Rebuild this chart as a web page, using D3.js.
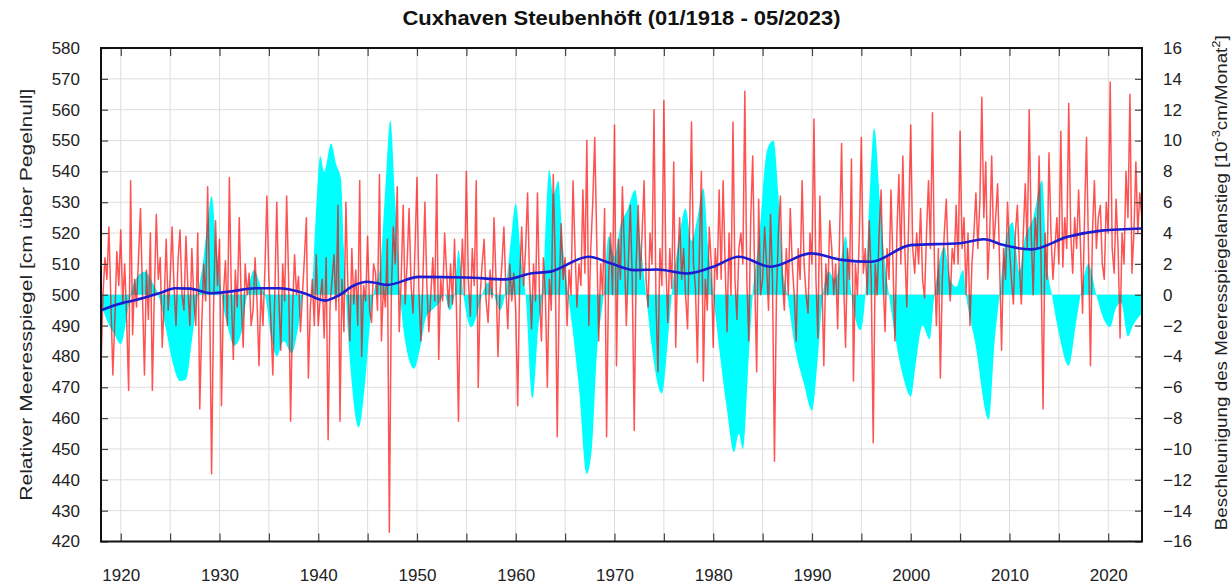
<!DOCTYPE html>
<html>
<head>
<meta charset="utf-8">
<script src="https://cdn.jsdelivr.net/npm/d3@7"></script>
<style>
  body { margin: 0; background: #fff; }
  svg { font-family: "Liberation Sans", Arial, sans-serif; }
  .grid line { stroke: #dedede; stroke-width: 1; }
  .axis path { display: none; }
  .axis line { stroke: #444; stroke-width: 1.2; }
  .axis text { font-size: 17px; fill: #222; }
  .title { font-size: 20px; font-weight: bold; fill: #111; }
  .label { font-size: 16px; fill: #222; }
</style>
</head>
<body>
<svg width="1231" height="585"></svg>
<script>
// sea level, cm above gauge zero, one value every 0.2 years from 01/1918
const levelStart = 1918, levelStep = 0.2
const seaLevel = [
  476,500,512,505,522, 498,474,492,514,503, 521,497,510,492,469, 537,487,505,496,512, 528,500,474,508,492,
  520,469,500,526,505, 512,483,498,518,495, 505,522,502,490,511, 521,500,495,519,502, 490,515,498,490,520,
  463,490,510,498,535, 500,442,496,524,503, 518,464,500,511,490, 538,500,479,508,496, 525,498,483,510,500,
  507,490,495,512,498, 477,502,490,508,532, 505,492,474,500,530, 500,482,510,498,532, 505,459,495,513,500,
  506,488,500,512,525, 473,496,505,490,513, 490,499,505,486,512, 453,497,505,513,495, 529,459,505,488,530,
  503,485,515,497,508, 490,537,480,503,498, 519,495,491,510,507, 495,539,485,503,496, 518,423,500,522,510,
  535,488,505,529,497, 510,528,503,494,515, 538,500,485,505,530, 503,488,500,512,498, 539,479,505,498,520,
  507,496,510,497,518, 495,459,502,518,500, 540,505,493,515,503, 537,470,500,510,518, 498,491,508,499,525,
  505,480,500,510,522, 502,489,510,498,507, 495,464,505,522,503, 515,533,505,489,510, 498,533,500,485,512,
  500,470,505,495,539, 510,454,500,523,505, 512,490,508,500,537, 515,496,510,503,534, 507,550,490,515,530,
  551,518,485,510,500, 528,454,505,520,500, 555,477,518,505,535, 515,490,510,529,505, 456,510,529,505,520,
  537,505,496,520,510, 560,498,475,515,503, 563,510,491,515,502, 543,483,510,525,505, 515,500,489,520,556,
  510,502,478,515,540, 472,505,495,522,510, 483,515,505,534,505, 537,510,488,520,500, 556,505,492,515,520,
  510,566,505,485,525, 545,505,475,531,500, 505,522,510,495,526, 505,446,500,520,532, 505,495,515,500,528,
  510,500,485,515,505, 537,510,500,494,520, 510,557,505,486,532, 505,477,510,500,524, 515,500,510,489,520,
  549,505,483,515,505, 544,472,510,500,520, 551,507,515,500,524, 505,452,510,500,520, 534,505,488,515,505,
  534,510,485,520,539, 510,545,515,496,525, 555,515,507,520,510, 528,505,499,520,537, 515,559,510,490,515,
  473,505,520,531,510, 498,515,510,529,510, 553,515,525,500,520, 490,510,520,533,515, 530,564,525,543,505,
  520,545,515,525,536, 510,482,515,505,530, 515,505,497,520,529, 510,497,520,536,515, 560,520,500,525,515,
  545,510,463,520,505, 546,520,505,515,525, 510,553,509,525,515, 562,520,507,525,515, 534,515,494,525,551,
  515,477,520,537,515, 525,529,510,505,530, 520,569,515,507,531, 515,486,520,510,540, 525,565,507,520,543,
  520,533,525
]

// smoothed trend of the sea level, cm [year, value]
const trend = [
  [1918.0,495.0],[1920.0,497.2],[1921.5,498.3],[1924.0,500.6],[1925.5,502.1],[1927.0,502.0],[1929.2,500.5],
  [1931.0,501.0],[1933.6,502.1],[1936.0,502.1],[1938.5,500.6],[1940.7,498.1],[1942.2,500.0],[1943.6,503.0],
  [1945.0,504.2],[1947.0,503.2],[1950.2,505.8],[1955.0,505.6],[1959.0,505.0],[1961.5,506.9],[1963.5,507.5],
  [1967.4,512.3],[1969.6,510.2],[1972.0,508.0],[1974.3,508.2],[1977.4,506.9],[1980.0,509.1],[1982.6,512.3],
  [1985.8,509.1],[1989.9,513.4],[1993.0,511.3],[1996.0,510.7],[2000.0,516.1],[2005.0,516.7],[2007.4,518.0],
  [2009.4,516.1],[2012.2,514.7],[2015.9,518.8],[2019.3,520.8],[2023.42,521.5]
]

// acceleration of sea level rise, 10^-3 cm/month^2 [year, value]
const accel = [
  [1918.0,-0.5],[1918.5,-1.5],[1919.3,-2.5],[1920.0,-3.2],[1920.6,-1.5],[1921.0,0],[1921.7,1.2],[1922.5,1.5],
  [1923.2,0.8],[1923.8,0],[1924.5,-2.0],[1925.3,-4.5],[1926.0,-5.6],[1926.6,-5.5],[1927.2,-3.0],[1927.8,0],
  [1928.3,2.0],[1928.7,4.2],[1929.2,6.4],[1929.7,3.0],[1930.2,0],[1930.8,-2.0],[1931.5,-3.3],[1932.2,-2.5],
  [1932.8,0],[1933.5,1.6],[1934.2,0.5],[1934.6,0],[1935.3,-3.0],[1935.8,-4.0],[1936.5,-3.0],[1937.3,-3.8],
  [1938.0,-2.0],[1938.5,0],[1939.3,0],[1939.7,4.5],[1940.2,9.0],[1940.6,8.0],[1941.3,9.8],[1941.8,8.5],
  [1942.3,7.5],[1942.6,3.0],[1942.8,0],[1943.3,-5.0],[1944.1,-8.6],[1944.7,-6.0],[1945.3,-1.5],[1945.6,0],
  [1946.3,2.0],[1946.8,7.0],[1947.3,11.3],[1947.8,6.0],[1948.3,0],[1948.8,-3.0],[1949.7,-4.8],[1950.3,-3.5],
  [1950.9,-1.5],[1951.5,-1.0],[1952.3,-0.5],[1952.8,0],[1953.3,-1.0],[1953.8,0],[1954.2,2.9],[1954.7,0],
  [1955.5,-2.1],[1956.2,-1.0],[1956.6,0],[1957.2,0.8],[1957.8,0],[1958.4,-1.0],[1958.9,0],[1959.5,3.5],
  [1960.0,5.9],[1960.6,2.0],[1961.0,0],[1961.7,-6.7],[1962.3,-2.0],[1962.7,0],[1963.4,8.1],[1963.8,6.5],
  [1964.3,7.4],[1964.8,3.0],[1965.3,0],[1965.8,-2.5],[1966.4,-6.0],[1967.2,-11.6],[1967.7,-10.0],[1968.2,-4.0],
  [1968.9,0],[1969.4,3.8],[1970.0,2.5],[1970.6,4.5],[1971.3,5.5],[1972.1,6.8],[1972.7,3.0],[1973.2,0],
  [1973.8,-3.5],[1974.8,-6.4],[1975.4,-3.0],[1975.8,0],[1976.5,3.5],[1977.2,5.6],[1977.8,3.5],[1978.4,5.0],
  [1979.0,6.9],[1979.5,3.0],[1980.0,0],[1980.7,-4.0],[1981.4,-7.5],[1982.1,-10.2],[1982.6,-9.0],[1983.0,-10.0],
  [1983.6,-4.0],[1984.0,0],[1984.6,3.5],[1985.5,9.5],[1986.1,10.0],[1986.6,6.5],[1987.0,2.0],[1987.5,0],
  [1988.3,-3.5],[1989.2,-5.8],[1990.0,-7.5],[1990.6,-4.0],[1991.1,0],[1991.7,1.5],[1992.3,1.0],[1993.0,2.5],
  [1993.4,3.8],[1994.0,0],[1994.9,-2.3],[1995.4,0],[1995.8,6.0],[1996.3,10.8],[1996.9,6.0],[1997.4,2.0],
  [1997.8,0],[1998.5,-3.0],[1999.3,-5.5],[2000.0,-6.6],[2000.5,-4.5],[2001.2,-2.0],[2001.9,-2.9],[2002.4,0],
  [2003.4,3.1],[2004.0,1.0],[2004.6,0.5],[2005.3,1.6],[2005.6,0],[2006.5,-3.0],[2007.9,-8.1],[2008.5,-3.0],
  [2009.0,0],[2009.5,3.0],[2010.3,4.7],[2011.0,1.5],[2011.5,3.5],[2012.4,5.0],[2013.3,7.4],[2013.8,2.0],
  [2014.3,0],[2015.0,-2.5],[2016.0,-4.6],[2016.7,-2.0],[2017.2,0],[2018.0,2.0],[2018.8,0],[2019.5,-1.5],
  [2020.2,-2.1],[2020.7,-1.0],[2021.3,-0.5],[2022.0,-2.7],[2022.5,-2.0],[2023.0,-1.5],[2023.42,-1.2]
]

const yearTicks = d3.range(1920, 2021, 5),
      levelTicks = d3.range(420, 581, 10),
      accelTicks = d3.range(-16, 17, 2)

const svg = d3.select("svg"),
      margin = {top: 48, right: 89, bottom: 43.5, left: 101},
      width = svg.attr("width") - margin.left - margin.right,
      height = svg.attr("height") - margin.top - margin.bottom,
      g = svg.append("g").attr("transform", "translate(" + margin.left + "," + margin.top + ")")

const x = d3.scaleLinear().domain([1918, 2023.42]).range([0, width]),
      yL = d3.scaleLinear().domain([420, 580]).range([height, 0]),
      yR = d3.scaleLinear().domain([-16, 16]).range([height, 0])

//grid
g.append("g").attr("class", "grid")
  .selectAll("line").data(yearTicks).enter().append("line")
    .attr("x1", d => x(d)).attr("x2", d => x(d)).attr("y1", 0).attr("y2", height)
g.append("g").attr("class", "grid")
  .selectAll("line").data(levelTicks).enter().append("line")
    .attr("x1", 0).attr("x2", width).attr("y1", d => yL(d)).attr("y2", d => yL(d))

//acceleration as filled area around zero
const area = d3.area()
  .x(d => x(d[0]))
  .y0(yR(0))
  .y1(d => yR(d[1]))
  .curve(d3.curveMonotoneX)

g.append("path")
  .datum(accel)
  .attr("d", area)
  .style("fill", "#00ffff")

//sea level
const line = d3.line()
  .x((d, i) => x(levelStart + i * levelStep))
  .y(d => yL(d))

g.append("path")
  .datum(seaLevel)
  .attr("d", line)
  .style("fill", "none")
  .style("stroke", "#ff0000")
  .style("stroke-opacity", 0.68)
  .style("stroke-width", 1.5)
  .style("stroke-linejoin", "round")

//trend
const trendLine = d3.line().x(d => x(d[0])).y(d => yL(d[1])).curve(d3.curveMonotoneX)

g.append("path")
  .datum(trend)
  .attr("d", trendLine)
  .style("fill", "none")
  .style("stroke", "#1c1cd0")
  .style("stroke-width", 2.6)

//axes, ticks point inward
g.append("g").attr("class", "axis")
  .call(d3.axisLeft(yL).tickValues(levelTicks).tickSize(-7).tickPadding(21))
g.append("g").attr("class", "axis")
  .attr("transform", "translate(" + width + ",0)")
  .call(d3.axisRight(yR).tickValues(accelTicks).tickSize(-7).tickPadding(21))
g.append("g").attr("class", "axis")
  .attr("transform", "translate(0," + height + ")")
  .call(d3.axisBottom(x).tickValues(yearTicks).tickSize(-8).tickPadding(27)
    .tickFormat(d => d % 10 === 0 ? d : ""))
g.append("g").attr("class", "axis")
  .call(d3.axisTop(x).tickValues(yearTicks).tickSize(-8).tickFormat(""))

g.append("rect")
  .attr("width", width).attr("height", height)
  .style("fill", "none").style("stroke", "#111").style("stroke-width", 2)

//titles
svg.append("text").attr("class", "title")
  .attr("x", margin.left + width / 2).attr("y", 25)
  .attr("text-anchor", "middle")
  .attr("textLength", 438).attr("lengthAdjust", "spacingAndGlyphs")
  .text("Cuxhaven Steubenhöft (01/1918 - 05/2023)")

svg.append("text").attr("class", "label")
  .attr("transform", "translate(32," + (margin.top + height / 2) + ") rotate(-90)")
  .attr("text-anchor", "middle")
  .attr("textLength", 412).attr("lengthAdjust", "spacingAndGlyphs")
  .text("Relativer Meeresspiegel [cm über Pegelnull]")

const rl = svg.append("text").attr("class", "label")
  .attr("transform", "translate(1227," + (margin.top + height / 2 - 12) + ") rotate(-90)")
  .attr("text-anchor", "middle")
  .attr("textLength", 495).attr("lengthAdjust", "spacingAndGlyphs")
rl.append("tspan").text("Beschleunigung des Meeresspiegelanstieg [10")
rl.append("tspan").attr("dy", -7).style("font-size", "11px").text("-3")
rl.append("tspan").attr("dy", 7).text("cm/Monat")
rl.append("tspan").attr("dy", -7).style("font-size", "11px").text("2")
rl.append("tspan").attr("dy", 7).text("]")
</script>
</body>
</html>
